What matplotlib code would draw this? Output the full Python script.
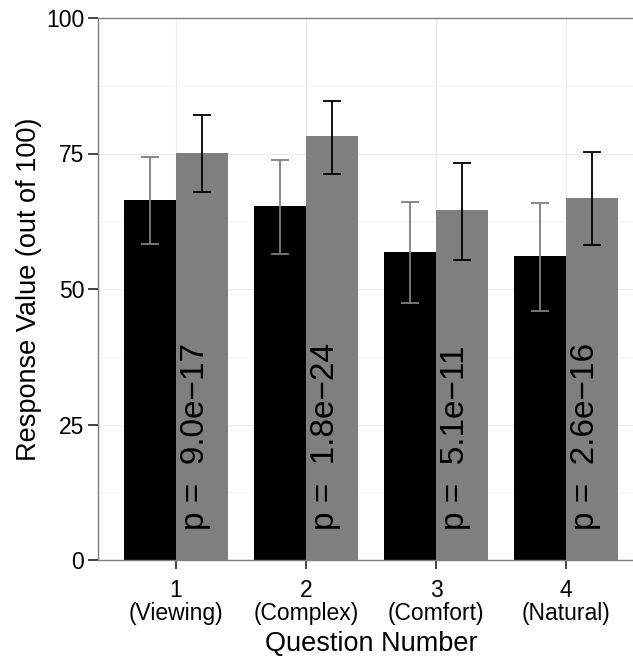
import matplotlib
matplotlib.use("Agg")
import matplotlib.pyplot as plt
import numpy as np

plt.rcParams['font.family'] = ['Liberation Sans', 'DejaVu Sans']

# Mean responses per question for the two conditions
questions = ["1\n(Viewing)", "2\n(Complex)", "3\n(Comfort)", "4\n(Natural)"]
black_means = [66.4, 65.4, 56.8, 56.0]
black_lo = [58.3, 56.5, 47.4, 45.9]
black_hi = [74.3, 73.8, 66.1, 65.8]
gray_means = [75.1, 78.2, 64.5, 66.8]
gray_lo = [67.9, 71.3, 55.4, 58.1]
gray_hi = [82.1, 84.7, 73.3, 75.3]
p_labels = ["p =  9.0e\u221217", "p =  1.8e\u221224", "p =  5.1e\u221211", "p =  2.6e\u221216"]
y_ticks = [0, 25, 50, 75, 100]

W, H = 633, 659
fig = plt.figure(figsize=(W / 100, H / 100), dpi=100)
x_left, x_right = 0.4, 4.6
px_per_unit = 130.0
ax_left_px, ax_top_px, ax_bot_px = 98, 18, 560
ax_w_px = (x_right - x_left) * px_per_unit
ax = fig.add_axes([ax_left_px / W, (H - ax_bot_px) / H,
                   ax_w_px / W, (ax_bot_px - ax_top_px) / H])

pos = np.arange(1, len(questions) + 1)
bw = 0.4
grid_major = '#ebebeb'
grid_minor = '#f5f5f5'

# grid
for yv in [12.5, 37.5, 62.5, 87.5]:
    ax.axhline(yv, color=grid_minor, lw=0.8, zorder=0)
for yv in y_ticks:
    ax.axhline(yv, color=grid_major, lw=0.8, zorder=0)
for xv in pos:
    ax.axvline(xv, color=grid_major, lw=0.8, zorder=0)

xb = pos - bw / 2
xg = pos + bw / 2
ax.bar(xb, black_means, width=bw, color='black', zorder=2)
ax.bar(xg, gray_means, width=bw, color='#7f7f7f', zorder=2)

bm = np.array(black_means)
gm = np.array(gray_means)
ax.errorbar(xb, bm, yerr=[bm - np.array(black_lo), np.array(black_hi) - bm],
            fmt='none', ecolor='#7f7f7f', elinewidth=1.3, capsize=6.2,
            capthick=1.3, zorder=3)
ax.errorbar(xg, gm, yerr=[gm - np.array(gray_lo), np.array(gray_hi) - gm],
            fmt='none', ecolor='black', elinewidth=1.3, capsize=6.2,
            capthick=1.3, zorder=3)

for x, lab in zip(xg, p_labels):
    ax.text(x - 0.05, 5.5, lab, rotation=90, ha='center', va='bottom',
            fontsize=24, color='black', zorder=4)

ax.set_xlim(x_left, x_right)
ax.set_ylim(0, 100)
ax.set_xticks(pos)
ax.set_xticklabels(questions, fontsize=16.5, linespacing=0.95)
ax.set_yticks(y_ticks)
ax.set_yticklabels([str(v) for v in y_ticks], fontsize=16.5)
ax.tick_params(axis='y', length=7, width=1.2, color='#222222', pad=3)
ax.tick_params(axis='x', length=6.5, width=1.2, color='#222222', pad=7.5)

for s in ax.spines.values():
    s.set_color('#7f7f7f')
    s.set_linewidth(1.0)

ax.set_xlabel("Question Number", fontsize=19.5, labelpad=5)
ax.set_ylabel("Response Value (out of 100)", fontsize=19.5, labelpad=3)

fig.savefig("out.png", dpi=100, facecolor='white')
